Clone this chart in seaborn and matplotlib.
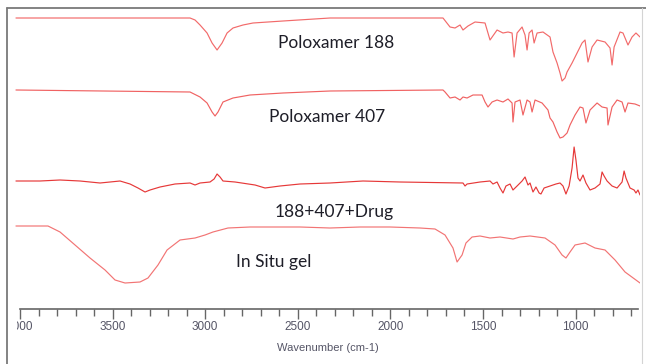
import matplotlib
matplotlib.use("Agg")
import matplotlib.pyplot as plt
import seaborn as sns
import pandas as pd
from matplotlib.lines import Line2D
from matplotlib.transforms import Bbox, TransformedBbox
from matplotlib.ticker import MultipleLocator

# ---------------- data (wavenumber cm-1, relative transmittance a.u.) ----------------
p188_wn = [4022, 3784, 3082, 3055, 3028, 2990, 2963, 2936, 2909, 2882, 2850, 2796, 2742,
           2580, 2326, 1716, 1678, 1651, 1624, 1608, 1581, 1543, 1489, 1462, 1424, 1392,
           1365, 1343, 1332, 1316, 1289, 1273, 1262, 1251, 1235, 1224, 1208, 1176, 1138,
           1122, 1100, 1084, 1073, 1057, 1046, 1019, 992, 965, 949, 933, 911, 884, 841,
           814, 803, 792, 760, 744, 717, 695, 674, 652]
p188_t = [291, 291, 291, 289, 284, 276, 266, 259, 266, 276, 281, 284, 286,
          288, 291, 291, 282, 281, 284, 279, 283, 287, 286, 269, 279, 276,
          277, 276, 252, 276, 282, 274, 259, 276, 279, 266, 276, 277, 272,
          257, 246, 236, 228, 231, 237, 246, 256, 266, 269, 247, 262, 269, 267,
          261, 244, 262, 277, 276, 264, 272, 276, 272]

p407_wn = [4022, 3082, 3028, 2990, 2963, 2947, 2931, 2904, 2850, 2758, 2580, 2326, 1716,
           1705, 1678, 1651, 1624, 1608, 1586, 1554, 1505, 1489, 1473, 1451, 1424, 1392,
           1365, 1343, 1338, 1327, 1300, 1284, 1262, 1246, 1235, 1219, 1181, 1149, 1138,
           1122, 1100, 1084, 1068, 1046, 1030, 1003, 976, 960, 944, 922, 884, 857, 830,
           825, 803, 776, 749, 733, 717, 679, 652]
p407_t = [219, 217, 212, 206, 197, 193, 197, 207, 211, 214, 216, 218, 219,
          217, 211, 212, 209, 212, 211, 214, 214, 207, 202, 207, 209, 207,
          210, 206, 187, 207, 209, 194, 209, 207, 197, 209, 206, 199, 191,
          187, 177, 171, 172, 176, 184, 194, 202, 201, 186, 199, 206, 202, 201,
          184, 202, 209, 207, 197, 206, 205, 203]

mix_wn = [4022, 3892, 3784, 3676, 3568, 3514, 3460, 3406, 3363, 3325, 3298, 3244, 3163,
          3082, 3055, 3028, 2974, 2952, 2936, 2920, 2904, 2839, 2731, 2677, 2596, 2488,
          2326, 2148, 1948, 1608, 1597, 1586, 1516, 1462, 1446, 1424, 1408, 1392, 1376,
          1354, 1338, 1316, 1289, 1273, 1257, 1246, 1230, 1214, 1197, 1187, 1170, 1138,
          1106, 1084, 1068, 1052, 1035, 1019, 1008, 998, 987, 976, 960, 944, 922, 895,
          868, 857, 846, 830, 803, 776, 749, 738, 728, 706, 684, 674, 663, 652]
mix_t = [128, 128, 129, 128, 126, 127, 128, 125, 121, 117, 119, 122, 125,
         126, 124, 126, 127, 130, 135, 132, 128, 127, 124, 121, 123, 125,
         126, 128, 127, 126, 123, 125, 127, 128, 125, 127, 121, 116, 123,
         125, 119, 123, 128, 132, 124, 126, 117, 122, 116, 115, 121, 123,
         125, 126, 123, 115, 123, 141, 162, 149, 131, 128, 134, 126, 119, 121,
         125, 137, 133, 128, 123, 121, 127, 138, 131, 121, 119, 116, 119, 114]

gel_wn = [4022, 3849, 3784, 3703, 3622, 3541, 3487, 3433, 3352, 3309, 3255, 3206, 3136,
          3055, 3001, 2958, 2877, 2758, 2488, 2326, 2164, 2002, 1840, 1759, 1705, 1662,
          1640, 1613, 1592, 1559, 1516, 1462, 1408, 1338, 1300, 1246, 1165, 1111, 1073,
          1052, 1030, 1003, 949, 895, 841, 787, 733, 652]
gel_t = [83, 83, 77, 64, 51, 39, 29, 26, 27, 31, 44, 59, 69,
         71, 74, 77, 81, 82, 82, 81, 82, 82, 81, 80, 74, 61,
         47, 54, 66, 72, 73, 71, 72, 70, 72, 73, 71, 64, 54,
         51, 57, 64, 66, 61, 59, 49, 37, 26]

series_names = ["Poloxamer 188", "Poloxamer 407", "188+407+Drug", "In Situ gel"]
series_wn = [p188_wn, p407_wn, mix_wn, gel_wn]
series_t = [p188_t, p407_t, mix_t, gel_t]

tick_values = [4000, 3500, 3000, 2500, 2000, 1500, 1000]
tick_labels = ["4000", "3500", "3000", "2500", "2000", "1500", "1000"]
x_label = "Wavenumber (cm-1)"

# ---------------- figure ----------------
sns.set_style("white")
plt.rcParams["font.family"] = ["Liberation Sans", "DejaVu Sans"]

W, H = 646, 364
fig = plt.figure(figsize=(W / 100, H / 100), dpi=100)
ax = fig.add_axes([15.4 / W, 55 / H, 625 / W, 302 / H])

frames = []
for name, wn, t in zip(series_names, series_wn, series_t):
    frames.append(pd.DataFrame({"wn": wn, "t": t, "name": name}))
df = pd.concat(frames, ignore_index=True)

colors = {"Poloxamer 188": "#f26a6a", "Poloxamer 407": "#f06262",
          "188+407+Drug": "#e63838", "In Situ gel": "#f27474"}
for name in series_names:
    sub = df[df["name"] == name]
    sns.lineplot(data=sub, x="wn", y="t", ax=ax, color=colors[name],
                 lw=0.85, estimator=None, legend=False)

ax.set_xlim(4025, 650)
ax.set_ylim(0, 302)
for s in ["left", "right", "top"]:
    ax.spines[s].set_visible(False)
ax.spines["bottom"].set_color("#666666")
ax.spines["bottom"].set_linewidth(1.2)
ax.spines["bottom"].set_bounds(4000, 663)
ax.set_yticks([])
ax.set_xticks(tick_values)
ax.set_xticklabels(tick_labels)
ax.xaxis.set_minor_locator(MultipleLocator(100))
ax.tick_params(axis="x", which="both", bottom=True, direction="out")
ax.tick_params(axis="x", which="major", length=7.5, width=1.0, color="#666666",
               labelsize=8.5, labelcolor="#555566", pad=1.5)
ax.tick_params(axis="x", which="minor", length=4.8, width=1.0, color="#666666")
ax.set_xlabel(x_label, fontsize=8, color="#555566", labelpad=6.5)
ax.set_ylabel("")

# series labels
label_pos = {"Poloxamer 188": (2294, 266), "Poloxamer 407": (2342, 191.5),
             "188+407+Drug": (2304, 97.5), "In Situ gel": (2631, 47.5)}
for name in series_names:
    x, y = label_pos[name]
    ax.text(x, y, name, ha="center", va="center", fontsize=12.5,
            color="#1e1e28", family=["Lato", "DejaVu Sans"])

# outer frame (left, top and faint right lines)
fig.add_artist(Line2D([6.5 / W, 6.5 / W], [0, 1 - 7.5 / H], transform=fig.transFigure,
                      color="#7a7a7a", lw=1.3))
fig.add_artist(Line2D([6.5 / W, 1], [1 - 7.5 / H, 1 - 7.5 / H], transform=fig.transFigure,
                      color="#7a7a7a", lw=1.3))
fig.add_artist(Line2D([641.5 / W, 641.5 / W], [0, 1 - 7.5 / H], transform=fig.transFigure,
                      color="#d4d4d4", lw=0.8))

fig.canvas.draw()
first = ax.get_xticklabels()[0]
first.set_clip_box(TransformedBbox(Bbox([[16.5 / W, 0], [1, 1]]), fig.transFigure))
first.set_clip_on(True)

fig.savefig("out.png", dpi=100, facecolor="white")
